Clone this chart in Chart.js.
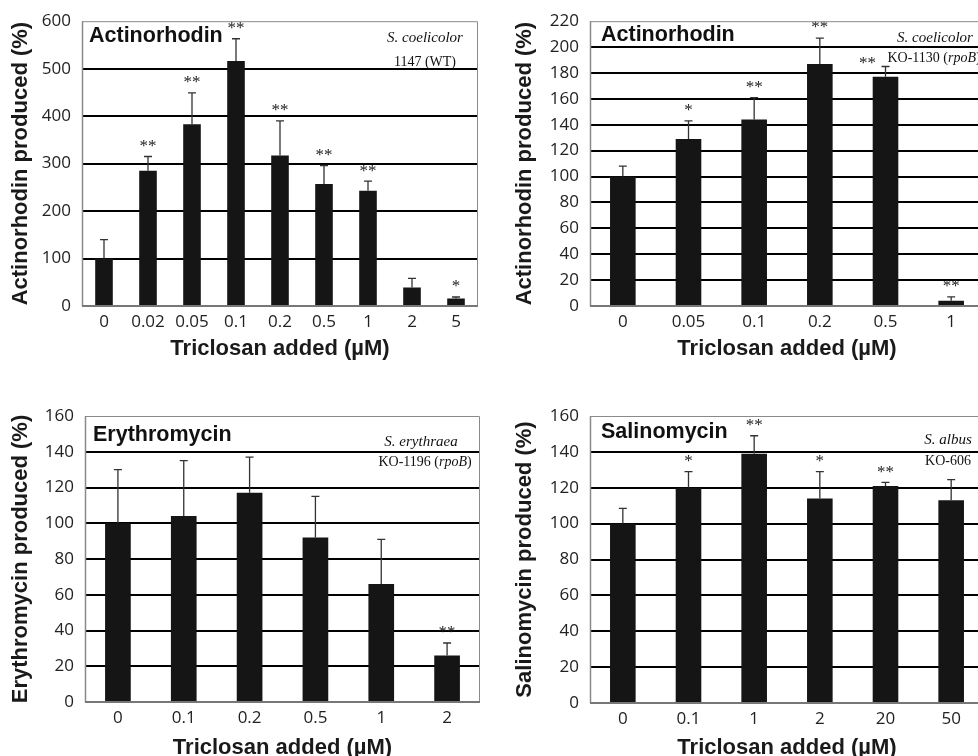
<!DOCTYPE html>
<html><head><meta charset="utf-8">
<script src="https://cdn.jsdelivr.net/npm/chart.js@4.4.1/dist/chart.umd.min.js"></script>
<style>
html,body{margin:0;padding:0;background:#fff;overflow:hidden;}
#wrap{position:relative;width:978px;height:756px;overflow:hidden;background:#fff;}
canvas{position:absolute;}
</style></head><body>
<div id="wrap">
<canvas id="cA" width="490" height="372" style="left:0;top:0;width:490px;height:372px"></canvas>
<canvas id="cB" width="510" height="372" style="left:490px;top:0;width:510px;height:372px"></canvas>
<canvas id="cC" width="490" height="400" style="left:0;top:380px;width:490px;height:400px"></canvas>
<canvas id="cD" width="510" height="400" style="left:490px;top:380px;width:510px;height:400px"></canvas>
</div>
<script>
// ---- Data ----
const xTitle = 'Triclosan added (\u00B5M)';

const catsA = ['0','0.02','0.05','0.1','0.2','0.5','1','2','5'];
const valsA = [100, 285, 383, 516, 317, 257, 243, 39, 16];
const sdA   = [40, 30, 66, 47, 73, 39, 20, 19, 3];
const sigA  = ['', '**', '**', '**', '**', '**', '**', '', '*'];
const yMaxA = 600, yStepA = 100;

const catsB = ['0','0.05','0.1','0.2','0.5','1'];
const valsB = [100, 129, 144, 187, 177, 4];
const sdB   = [8, 14, 17, 20, 8, 3];
const sigB  = ['', '*', '**', '**', '**', '**'];
const yMaxB = 220, yStepB = 20;

const catsC = ['0','0.1','0.2','0.5','1','2'];
const valsC = [100, 104, 117, 92, 66, 26];
const sdC   = [30, 31, 20, 23, 25, 7];
const sigC  = ['', '', '', '', '', '**'];
const yMaxC = 160, yStepC = 20;

const catsD = ['0','0.1','1','2','20','50'];
const valsD = [100, 120, 139, 114, 121, 113];
const sdD   = [8.5, 9, 10, 15, 2, 11.5];
const sigD  = ['', '*', '**', '*', '**', ''];
const yMaxD = 160, yStepD = 20;

// ---- Styles ----
const tickFont = {family: "'Open Sans'", size: 17};
const titleFont = {family: "'Liberation Sans', Arial", size: 22, weight: 'bold'};

function drawSegs(ctx, segs, cx, y, size) {
  let total = 0;
  segs.forEach(s => { ctx.font = (s.i ? 'italic ' : '') + size + "px 'Liberation Serif'"; s.w = ctx.measureText(s.t).width; total += s.w; });
  let x = cx - total / 2;
  ctx.textAlign = 'left'; ctx.textBaseline = 'middle';
  segs.forEach(s => { ctx.font = (s.i ? 'italic ' : '') + size + "px 'Liberation Serif'"; ctx.fillText(s.t, x, y); x += s.w; });
}

function makePanelPlugin(cfg) {
  return {
    id: 'panel_' + cfg.id,
    afterDatasetsDraw(chart) {
      const {ctx, chartArea: a, scales: {y}} = chart;
      const meta = chart.getDatasetMeta(0);
      ctx.save();
      // error bars
      ctx.strokeStyle = '#333'; ctx.lineWidth = 1.3;
      meta.data.forEach((bar, i) => {
        const top = y.getPixelForValue(cfg.vals[i] + cfg.sd[i]);
        ctx.beginPath();
        ctx.moveTo(bar.x, bar.y); ctx.lineTo(bar.x, top);
        ctx.moveTo(bar.x - 4, top); ctx.lineTo(bar.x + 4, top);
        ctx.stroke();
        if (cfg.sig[i]) {
          let sx = bar.x, sy = top - 10;
          if (cfg.starShift && cfg.starShift.index === i) { sx += cfg.starShift.dx; sy += cfg.starShift.dy; }
          ctx.fillStyle = '#222';
          ctx.font = "17px 'Liberation Serif'";
          ctx.textAlign = 'center'; ctx.textBaseline = 'middle';
          ctx.fillText(cfg.sig[i], sx, sy);
        }
      });
      // frame
      ctx.strokeStyle = '#8a8a8a'; ctx.lineWidth = 1;
      ctx.beginPath();
      ctx.moveTo(a.left, a.top + 0.5); ctx.lineTo(a.right - 0.5, a.top + 0.5); ctx.lineTo(a.right - 0.5, a.bottom);
      ctx.stroke();
      ctx.lineWidth = 1.5;
      ctx.beginPath(); ctx.moveTo(a.left + 0.5, a.top); ctx.lineTo(a.left + 0.5, a.bottom); ctx.stroke();
      ctx.strokeStyle = '#777'; ctx.lineWidth = 2;
      ctx.beginPath(); ctx.moveTo(a.left, a.bottom); ctx.lineTo(a.right, a.bottom); ctx.stroke();
      // panel title
      ctx.fillStyle = '#111';
      ctx.font = "bold 21.5px 'Liberation Sans', Arial";
      ctx.textAlign = 'left'; ctx.textBaseline = 'middle';
      ctx.fillText(cfg.title, a.left + cfg.titleDx, a.top + cfg.titleDy);
      // strain annotation
      ctx.fillStyle = '#111';
      drawSegs(ctx, cfg.species, a.right - cfg.spDx, a.top + cfg.spDy, 15);
      drawSegs(ctx, cfg.strain, a.right - cfg.stDx, a.top + cfg.stDy, cfg.stSize);
      ctx.restore();
    }
  };
}

function makeChart(cfg) {
  return new Chart(document.getElementById(cfg.id), {
    type: 'bar',
    data: {labels: cfg.cats, datasets: [{data: cfg.vals, backgroundColor: '#151515', borderWidth: 0, barPercentage: cfg.barPct, categoryPercentage: 1}]},
    options: {
      responsive: false, animation: false, devicePixelRatio: 1,
      layout: {padding: cfg.pad},
      plugins: {legend: {display: false}, tooltip: {enabled: false}},
      scales: {
        x: {
          grid: {display: false, drawTicks: false}, border: {display: false},
          ticks: {font: tickFont, color: '#222', padding: 6, maxRotation: 0, autoSkip: false},
          title: {display: true, text: xTitle, font: titleFont, color: '#1a1a1a', padding: {top: 0, bottom: cfg.xTitlePad}},
          afterFit: s => { s.height = cfg.xH; }
        },
        y: {
          min: 0, max: cfg.yMax,
          ticks: {stepSize: cfg.yStep, font: tickFont, color: '#222', padding: 11},
          grid: {drawTicks: false, lineWidth: 2, color: c => (c.tick && (c.tick.value === 0 || c.tick.value === cfg.yMax)) ? 'rgba(0,0,0,0)' : '#000'},
          border: {display: false},
          title: {display: true, text: cfg.yTitle, font: titleFont, color: '#1a1a1a', padding: {top: 8, bottom: 0}},
          afterFit: s => { s.width = cfg.yW; }
        }
      }
    },
    plugins: [makePanelPlugin(cfg)]
  });
}

makeChart({
  id: 'cA', cats: catsA, vals: valsA, sd: sdA, sig: sigA, yMax: yMaxA, yStep: yStepA,
  yTitle: 'Actinorhodin produced (%)', title: 'Actinorhodin',
  pad: {left: 0, top: 18, right: 12, bottom: 0}, yW: 82, xH: 66, xTitlePad: 9.5, barPct: 0.4,
  titleDx: 7, titleDy: 15,
  species: [{t: 'S. coelicolor', i: true}], spDx: 53, spDy: 17,
  strain: [{t: '1147 (WT)', i: false}], stDx: 53, stDy: 41, stSize: 14
});
makeChart({
  id: 'cB', cats: catsB, vals: valsB, sd: sdB, sig: sigB, yMax: yMaxB, yStep: yStepB,
  yTitle: 'Actinorhodin produced (%)', title: 'Actinorhodin',
  pad: {left: 14, top: 19, right: 16, bottom: 0}, yW: 86, xH: 66, xTitlePad: 9.5, barPct: 0.39,
  titleDx: 11, titleDy: 14,
  species: [{t: 'S. coelicolor', i: true}], spDx: 49, spDy: 17,
  strain: [{t: 'KO-1130 (', i: false}, {t: 'rpoB', i: true}, {t: ')', i: false}], stDx: 50, stDy: 37, stSize: 14,
  starShift: {index: 4, dx: -18, dy: 7}
});
makeChart({
  id: 'cC', cats: catsC, vals: valsC, sd: sdC, sig: sigC, yMax: yMaxC, yStep: yStepC,
  yTitle: 'Erythromycin produced (%)', title: 'Erythromycin',
  pad: {left: 0, top: 36, right: 10, bottom: 0}, yW: 85, xH: 78, xTitlePad: 19, barPct: 0.39,
  titleDx: 8, titleDy: 19,
  species: [{t: 'S. erythraea', i: true}], spDx: 59, spDy: 26,
  strain: [{t: 'KO-1196 (', i: false}, {t: 'rpoB', i: true}, {t: ')', i: false}], stDx: 55, stDy: 46, stSize: 14
});
makeChart({
  id: 'cD', cats: catsD, vals: valsD, sd: sdD, sig: sigD, yMax: yMaxD, yStep: yStepD,
  yTitle: 'Salinomycin produced (%)', title: 'Salinomycin',
  pad: {left: 14, top: 36, right: 16, bottom: 0}, yW: 86, xH: 77, xTitlePad: 19, barPct: 0.39,
  titleDx: 11, titleDy: 16,
  species: [{t: 'S. albus', i: true}], spDx: 36, spDy: 24.5,
  strain: [{t: 'KO-606', i: false}], stDx: 36, stDy: 45.5, stSize: 14
});
</script>
</body></html>
